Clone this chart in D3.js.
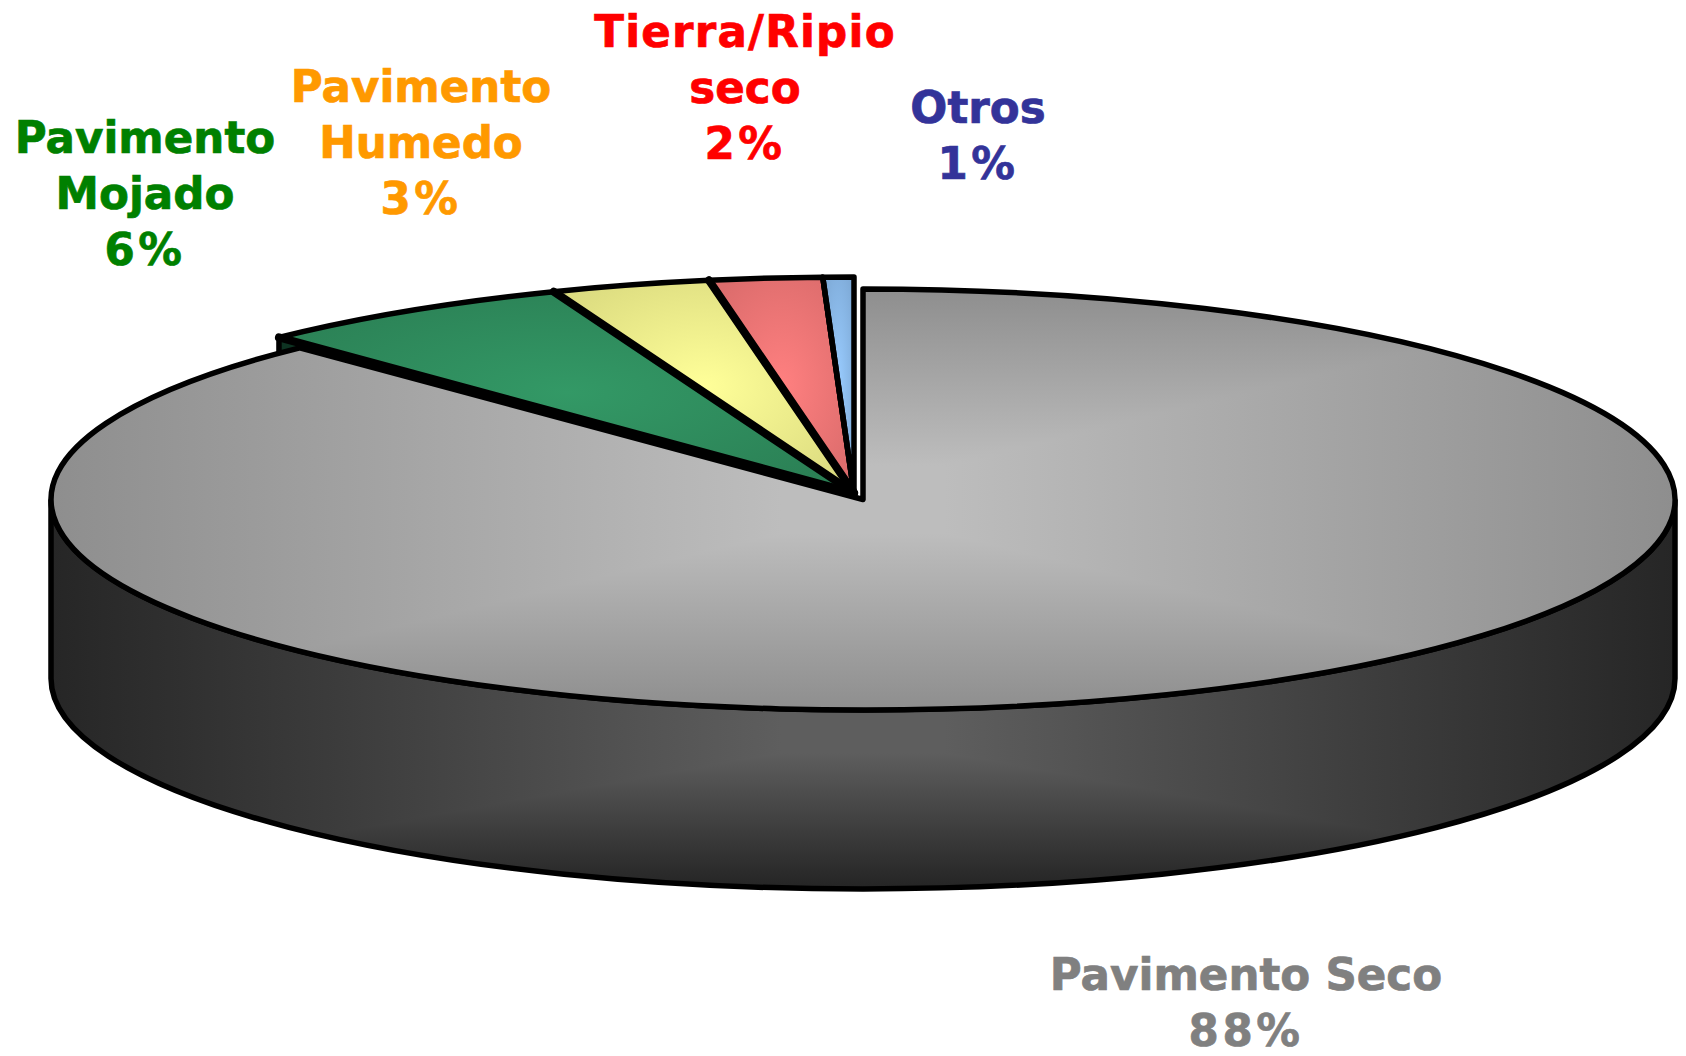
<!DOCTYPE html>
<html>
<head>
<meta charset="utf-8">
<script src="https://cdn.jsdelivr.net/npm/d3@7"></script>
<style>
  html, body { margin: 0; background: #fff; }
  svg { display: block; }
  text { font-family: "DejaVu Sans", sans-serif; font-weight: bold; font-size: 43.6px; text-anchor: middle; stroke-width: 0.7px; }
</style>
</head>
<body>
<div id="chart"></div>
<script>
const CATEGORIES = ["Pavimento Seco", "Pavimento Mojado", "Pavimento Humedo", "Tierra/Ripio seco", "Otros"];
const VALUES = [87.8, 6.3, 3.1, 2.2, 0.6];
const PERCENT_LABELS = ["88%", "6%", "3%", "2%", "1%"];
const LABEL_LINES = [["Pavimento Seco"], ["Pavimento", "Mojado"], ["Pavimento", "Humedo"], ["Tierra/Ripio", "seco"], ["Otros"]];
const LINE_SPACING = [[0], [0], [0], [1.2, 0], [0]];
const TEXT_COLORS = ["#808080", "#008000", "#ff9900", "#ff0000", "#333399"];
const SLICE_CENTER = ["", "#339966", "#ffff99", "#ff8080", "#99ccff"];
const SLICE_EDGE = ["", "#2b8055", "#dcdc80", "#dc6c6c", "#7fabd8"];
const LABEL_X = [1246, 145, 421, 745, 978];
const LABEL_Y = [990, 153, 102, 47, 123];

const WIDTH = 1686, HEIGHT = 1056;
const LINE_HEIGHT = 56;
const PERCENT_SPACING = 3.5;
const PIE = { cx: 863, cy: 499.5, rx: 812, ry: 210.5, depth: 179 };
const EXPLODED = { cx: 854, cy: 493, rx: 829, ry: 216 };

const svg = d3.select("#chart").append("svg")
  .attr("width", WIDTH)
  .attr("height", HEIGHT);
const defs = svg.append("defs");

function linearGradient(id, attrs, stops) {
  const g = defs.append("linearGradient").attr("id", id);
  Object.entries(attrs).forEach(([k, v]) => g.attr(k, v));
  stops.forEach(([offset, color]) => g.append("stop").attr("offset", offset).attr("stop-color", color));
}

linearGradient("topX", { x1: 0, x2: 1, y1: 0, y2: 0 }, [[0, "#8e8e8e"], [0.45, "#bdbdbd"], [0.55, "#bdbdbd"], [1, "#8e8e8e"]]);
linearGradient("topY", { x1: 0, x2: 0, y1: 0, y2: 1 }, [[0, "#8e8e8e"], [0.42, "#bdbdbd"], [0.58, "#bdbdbd"], [1, "#8e8e8e"]]);
linearGradient("wallX", { x1: 0, x2: 1, y1: 0, y2: 0 }, [[0, "#262626"], [0.45, "#5e5e5e"], [0.55, "#5e5e5e"], [1, "#262626"]]);
linearGradient("wallY", { gradientUnits: "userSpaceOnUse", x1: 0, x2: 0, y1: 694, y2: 889 },
  [[0, "#5e5e5e"], [0.3, "#5e5e5e"], [1, "#242424"]]);

const pie = d3.pie().sort(null).value(d => d);
const slices = pie(VALUES);

const wallPath = `M${PIE.cx - PIE.rx},${PIE.cy}V${PIE.cy + PIE.depth}`
  + `A${PIE.rx},${PIE.ry} 0 0 0 ${PIE.cx + PIE.rx},${PIE.cy + PIE.depth}V${PIE.cy}`
  + `A${PIE.rx},${PIE.ry} 0 0 1 ${PIE.cx - PIE.rx},${PIE.cy}Z`;

// side of the disc, shaded in both directions
const wall = svg.append("g").style("isolation", "isolate");
wall.append("path").attr("d", wallPath).attr("fill", "url(#wallX)");
wall.append("path").attr("d", wallPath).attr("fill", "url(#wallY)").style("mix-blend-mode", "darken");
wall.append("path").attr("d", wallPath).attr("fill", "none").attr("stroke", "#000").attr("stroke-width", 5.5);

const rimPoint = a => [EXPLODED.cx + EXPLODED.rx * Math.sin(a), EXPLODED.cy - EXPLODED.ry * Math.cos(a)];

// cut face of the exploded green slice, mostly hidden by the big slice
const [tipX, tipY] = rimPoint(slices[1].startAngle);
svg.append("path")
  .attr("d", `M${tipX},${tipY}V${tipY + PIE.depth}L${EXPLODED.cx},${EXPLODED.cy + PIE.depth}V${EXPLODED.cy}Z`)
  .attr("fill", "#0e3322")
  .attr("stroke", "#000")
  .attr("stroke-width", 5.5)
  .attr("stroke-linejoin", "round");

// big slice
const bigArc = d3.arc().innerRadius(0).outerRadius(PIE.rx);
const big = svg.append("g")
  .attr("transform", `translate(${PIE.cx},${PIE.cy}) scale(1,${PIE.ry / PIE.rx})`)
  .style("isolation", "isolate");
big.append("path").attr("d", bigArc(slices[0])).attr("fill", "url(#topX)");
big.append("path").attr("d", bigArc(slices[0])).attr("fill", "url(#topY)").style("mix-blend-mode", "darken");
big.append("path").attr("d", bigArc(slices[0]))
  .attr("fill", "none")
  .attr("stroke", "#000")
  .attr("stroke-width", 5.5)
  .attr("stroke-linejoin", "round")
  .attr("vector-effect", "non-scaling-stroke");

// exploded slices
slices.slice(1).forEach(s => {
  const g = defs.append("radialGradient")
    .attr("id", `slice${s.index}`)
    .attr("cx", 0.5).attr("cy", 0.5).attr("r", 0.6);
  g.append("stop").attr("offset", 0).attr("stop-color", SLICE_CENTER[s.index]);
  g.append("stop").attr("offset", 1).attr("stop-color", SLICE_EDGE[s.index]);
});
const smallArc = d3.arc().innerRadius(0).outerRadius(EXPLODED.rx);
svg.append("g")
  .attr("transform", `translate(${EXPLODED.cx},${EXPLODED.cy}) scale(1,${EXPLODED.ry / EXPLODED.rx})`)
  .selectAll("path")
  .data(slices.slice(1))
  .join("path")
  .attr("d", smallArc)
  .attr("fill", d => `url(#slice${d.index})`)
  .attr("stroke", "#000")
  .attr("stroke-width", 5.5)
  .attr("stroke-linejoin", "round")
  .attr("vector-effect", "non-scaling-stroke");

// the slice boundaries read heavier than the rim
svg.append("g").selectAll("line")
  .data(slices.slice(1))
  .join("line")
  .attr("x1", EXPLODED.cx)
  .attr("y1", EXPLODED.cy)
  .attr("x2", d => rimPoint(d.startAngle)[0])
  .attr("y2", d => rimPoint(d.startAngle)[1])
  .attr("stroke", "#000")
  .attr("stroke-linecap", "round")
  .attr("stroke-width", d => d.index === 4 ? 5.5 : 8);

// labels
const labels = svg.append("g").selectAll("text")
  .data(CATEGORIES)
  .join("text")
  .attr("aria-label", d => d)
  .attr("fill", (d, i) => TEXT_COLORS[i])
  .attr("stroke", (d, i) => TEXT_COLORS[i])
  .attr("y", (d, i) => LABEL_Y[i]);

labels.selectAll("tspan")
  .data((d, i) => LABEL_LINES[i].map((line, j) => ({ line, i, spacing: LINE_SPACING[i][j] }))
    .concat({ line: PERCENT_LABELS[i], i, spacing: PERCENT_SPACING }))
  .join("tspan")
  .attr("x", d => LABEL_X[d.i])
  .attr("dy", (d, j) => j ? LINE_HEIGHT : 0)
  .style("letter-spacing", d => `${d.spacing}px`)
  .text(d => d.line);
</script>
</body>
</html>
